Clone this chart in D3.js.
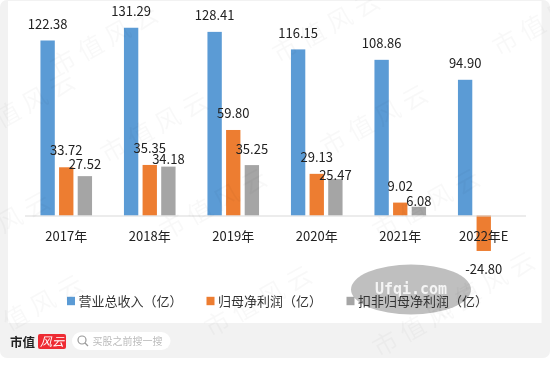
<!DOCTYPE html>
<html>
<head>
<meta charset="utf-8">
<script src="https://cdnjs.cloudflare.com/ajax/libs/d3/7.8.5/d3.min.js"></script>
<style>
  html, body { margin: 0; padding: 0; background: #fff; }
  svg { display: block; filter: blur(0.35px); }
  text { font-family: "Noto Sans CJK SC", "Noto Sans", sans-serif; fill: #222; }
</style>
</head>
<body>
<svg id="chart" width="550" height="368"></svg>
<script>
const years = ['2017年', '2018年', '2019年', '2020年', '2021年', '2022年E'];
const revenue = [122.38, 131.29, 128.41, 116.15, 108.86, 94.90];
const netProfit = [33.72, 35.35, 59.80, 29.13, 9.02, -24.80];
const adjustedProfit = [27.52, 34.18, 35.25, 25.47, 6.08, null];
const seriesNames = ['营业总收入（亿）', '归母净利润（亿）', '扣非归母净利润（亿）'];
const colors = ['#5b9bd5', '#ed7d31', '#a5a5a5'];
const watermarkText = '市值风云';

// the grey labels sit closer to their bars where they would hit the orange ones
const GAP = 16.5;
const GREY_GAPS = [12, 7.5, 16, 4, 5, 0];

const PLOT = {left: 24.5, right: 525.5, base: 215.5};
const PX_PER_UNIT = 1.43;

const svg = d3.select('#chart');

const series = [revenue, netProfit, adjustedProfit].map((values, idx) => ({
  idx, name: seriesNames[idx], color: colors[idx], values
}));

const x = d3.scaleBand().domain(years).range([PLOT.left, PLOT.right]);
const x1 = d3.scaleBand().domain([0, 1, 2]).range([0, 51.6]).paddingInner(0.23);
const y = d3.scaleLinear().domain([0, 100]).range([PLOT.base, PLOT.base - 100 * PX_PER_UNIT]);
const groupLeft = year => x(year) + (x.bandwidth() - 51.6) / 2;

// page frame
svg.append('rect').attr('width', 550).attr('height', 358).attr('rx', 7).attr('fill', '#f2f2f2');
svg.append('rect').attr('x', 8).attr('y', 1).attr('width', 533.5).attr('height', 322).attr('fill', '#fff');

// bars
let groups = svg.selectAll('g.series')
  .data(series)
  .enter()
  .append('g')
    .attr('class', 'series');

groups.selectAll('rect')
  .data(s => years.map((year, i) => ({year, value: s.values[i], color: s.color, idx: s.idx}))
    .filter(d => d.value !== null))
  .enter()
  .append('rect')
    .attr('x', d => groupLeft(d.year) + x1(d.idx))
    .attr('y', d => y(Math.max(0, d.value)))
    .attr('width', x1.bandwidth())
    .attr('height', d => Math.abs(y(d.value) - y(0)))
    .attr('fill', d => d.color);

// axis
const axis = svg.append('g')
  .attr('transform', `translate(0, ${PLOT.base})`)
  .call(d3.axisBottom(x).tickSize(0).tickPadding(16));
axis.select('.domain').attr('stroke', '#d9d9d9').attr('stroke-width', 1.2);
axis.selectAll('text')
  .style('font-family', '"Noto Sans CJK SC", sans-serif')
  .style('font-size', '13px')
  .attr('fill', '#222');

// value labels
groups.selectAll('text')
  .data(s => years.map((year, i) => ({year, i, value: s.values[i], idx: s.idx}))
    .filter(d => d.value !== null))
  .enter()
  .append('text')
    .attr('x', d => groupLeft(d.year) + x1(d.idx) + x1.bandwidth() / 2)
    .attr('y', d => {
      if (d.value < 0) return y(d.value) + 18.5;
      return y(d.value) - (d.idx === 2 ? GREY_GAPS[d.i] : GAP);
    })
    .attr('dy', '0.36em')
    .attr('text-anchor', 'middle')
    .style('font-size', '13px')
    .text(d => d.value.toFixed(2));

// stamp behind the legend
svg.append('ellipse')
  .attr('cx', 411).attr('cy', 289.5).attr('rx', 60).attr('ry', 25)
  .attr('fill', '#bfbfbf');
svg.append('text')
  .attr('x', 411).attr('y', 289).attr('dy', '0.36em')
  .attr('text-anchor', 'middle')
  .style('font-family', '"DejaVu Sans Mono", monospace')
  .style('font-size', '15px')
  .style('font-weight', 'bold')
  .style('fill', '#f4f4f4')
  .text('Ufqi.com');

// legend
const legendX = [67, 206.5, 346.5];
const legend = svg.selectAll('g.legend')
  .data(series)
  .enter()
  .append('g')
    .attr('class', 'legend')
    .attr('transform', d => `translate(${legendX[d.idx]}, 301)`);
legend.append('rect')
  .attr('y', -4.2).attr('width', 8).attr('height', 8.4)
  .attr('fill', d => d.color);
legend.append('text')
  .attr('x', 11.5)
  .attr('dy', '0.36em')
  .style('font-size', '13px')
  .style('fill', '#333')
  .text(d => d.name);

// footer
svg.append('text')
  .attr('x', 10).attr('y', 342).attr('dy', '0.36em')
  .style('font-family', '"Noto Sans CJK SC", serif')
  .style('font-size', '12.5px').style('font-weight', 'bold')
  .text('市值');
svg.append('rect')
  .attr('x', 38).attr('y', 334).attr('width', 28).attr('height', 15).attr('rx', 2)
  .attr('fill', '#ee2b33');
svg.append('text')
  .attr('x', 52).attr('y', 341.5).attr('dy', '0.36em')
  .attr('text-anchor', 'middle')
  .style('font-size', '12px').style('font-style', 'italic').style('fill', '#fff')
  .text('风云');
svg.append('rect')
  .attr('x', 72).attr('y', 332).attr('width', 98.5).attr('height', 18).attr('rx', 9)
  .attr('fill', '#fff');
svg.append('circle')
  .attr('cx', 82).attr('cy', 340).attr('r', 4)
  .attr('fill', 'none').attr('stroke', '#999').attr('stroke-width', 1.2);
svg.append('line')
  .attr('x1', 85).attr('y1', 343).attr('x2', 88).attr('y2', 346)
  .attr('stroke', '#999').attr('stroke-width', 1.2);
svg.append('text')
  .attr('x', 92.5).attr('y', 341).attr('dy', '0.36em')
  .style('font-size', '10px').style('fill', '#bbb')
  .text('买股之前搜一搜');

// watermarks
const watermarkStarts = [
  [63, 63], [113, 150], [285, 50], [333, 143], [505, 43], [172, 227],
  [385, 227], [-45, 250], [-12, 333], [217, 324], [385, 344], [440, 310], [-20, 130]
];
svg.selectAll('text.watermark')
  .data(watermarkStarts)
  .enter()
  .append('text')
    .attr('class', 'watermark')
    .attr('transform', d => `translate(${d[0]}, ${d[1]}) rotate(-29)`)
    .attr('dy', '0.36em')
    .attr('text-anchor', 'start')
    .attr('dx', -12)
    .style('font-size', '25px')
    .style('letter-spacing', '6px')
    .style('fill', 'rgba(0,0,0,0.028)')
    .text(watermarkText);
</script>
</body>
</html>
